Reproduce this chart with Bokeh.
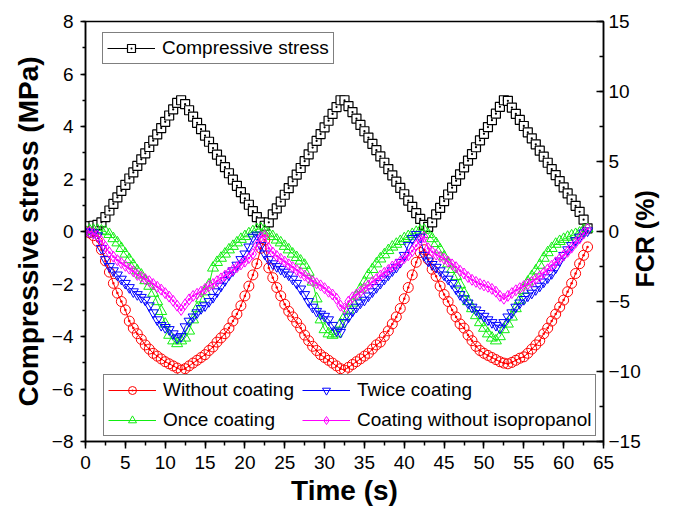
import math
from bokeh.plotting import figure
from bokeh.models import Range1d, LinearAxis, SingleIntervalTicker, FixedTicker, Legend, LegendItem
from bokeh.embed import file_html
from bokeh.resources import INLINE

# ---- data (sampled every 0.5 s from 0 to 63 s) ----
stress = [
    0.20, 0.20, 0.22, 0.25, 0.35, 0.55, 0.80, 1.05, 1.30, 1.55,
    1.78, 2.02, 2.25, 2.50, 2.75, 2.98, 3.22, 3.46, 3.70, 3.94,
    4.18, 4.42, 4.65, 4.90, 5.00, 4.85, 4.62, 4.38, 4.14, 3.90,
    3.65, 3.42, 3.18, 2.93, 2.70, 2.45, 2.22, 1.98, 1.74, 1.50,
    1.26, 1.02, 0.78, 0.55, 0.35, 0.22, 0.35, 0.65, 0.88, 1.14,
    1.40, 1.65, 1.91, 2.17, 2.42, 2.68, 2.94, 3.20, 3.45, 3.71,
    3.97, 4.22, 4.48, 4.74, 5.00, 5.00, 4.78, 4.55, 4.30, 4.06,
    3.82, 3.58, 3.34, 3.10, 2.86, 2.62, 2.38, 2.14, 1.90, 1.66,
    1.42, 1.18, 0.94, 0.70, 0.48, 0.25, 0.18, 0.35, 0.65, 0.90,
    1.16, 1.41, 1.67, 1.93, 2.18, 2.44, 2.70, 2.95, 3.21, 3.47,
    3.72, 3.98, 4.24, 4.49, 4.75, 5.00, 4.98, 4.72, 4.48, 4.25,
    4.02, 3.78, 3.55, 3.32, 3.08, 2.85, 2.62, 2.38, 2.15, 1.92,
    1.68, 1.45, 1.22, 0.98, 0.75, 0.45, 0.12,
]

without_coating = [
    0.0, -0.1, -0.3, -0.7, -1.3, -2.1, -2.9, -3.7, -4.4, -5.0,
    -5.6, -6.4, -6.9, -7.3, -7.7, -8.1, -8.4, -8.7, -8.9, -9.1,
    -9.3, -9.45, -9.6, -9.75, -9.9, -9.8, -9.6, -9.4, -9.2, -9.0,
    -8.8, -8.5, -8.25, -7.9, -7.6, -7.3, -6.9, -6.4, -5.9, -5.3,
    -4.6, -3.9, -3.1, -2.3, -1.2, -0.6, -2.6, -3.3, -4.0, -4.6,
    -5.2, -5.7, -6.1, -6.5, -6.9, -7.4, -7.8, -8.2, -8.5, -8.8,
    -9.0, -9.2, -9.4, -9.6, -9.8, -9.9, -9.7, -9.5, -9.3, -9.1,
    -8.9, -8.7, -8.4, -8.1, -7.9, -7.5, -7.1, -6.6, -6.1, -5.5,
    -4.8, -4.0, -3.1, -2.2, -1.5, -1.3, -2.0, -2.7, -3.2, -3.9,
    -4.5, -5.0, -5.6, -6.1, -6.6, -6.9, -7.4, -7.8, -8.2, -8.5,
    -8.7, -8.85, -9.0, -9.15, -9.3, -9.4, -9.45, -9.35, -9.2, -9.05,
    -8.95, -8.7, -8.4, -8.1, -7.8, -7.3, -6.9, -6.4, -5.9, -5.4,
    -4.9, -4.3, -3.7, -3.0, -2.3, -1.7, -1.1,
]

once_coating = [
    0.0, 0.1, 0.1, 0.1, 0.05, 0.0, -0.2, -0.5, -0.8, -1.2,
    -1.6, -2.0, -2.4, -2.8, -3.1, -3.5, -3.9, -4.4, -5.0, -5.7,
    -6.6, -7.4, -7.8, -8.0, -7.8, -7.6, -7.1, -6.3, -5.5, -4.8,
    -4.3, -3.8, -2.6, -2.2, -1.9, -1.6, -1.3, -1.05, -0.8, -0.55,
    -0.35, -0.15, 0.0, 0.15, 0.2, 0.05, -0.15, -0.35, -0.6, -0.8,
    -1.05, -1.3, -1.6, -1.85, -2.1, -2.4, -2.9, -3.6, -4.8, -6.3,
    -7.0, -7.3, -7.4, -7.3, -6.6, -6.1, -5.6, -5.1, -4.6, -4.1,
    -3.6, -3.1, -2.7, -2.3, -1.95, -1.65, -1.35, -1.1, -0.9, -0.7,
    -0.5, -0.35, -0.2, -0.05, 0.05, 0.1, -0.2, -0.5, -0.85, -1.3,
    -1.8, -2.3, -2.7, -3.2, -3.8, -4.4, -5.0, -5.5, -6.0, -6.5,
    -6.9, -7.3, -7.6, -7.8, -7.5, -7.0, -6.6, -6.1, -5.5, -4.9,
    -4.2, -3.6, -3.2, -2.8, -2.4, -1.9, -1.5, -1.2, -0.9, -0.7,
    -0.55, -0.4, -0.3, -0.2, -0.1, 0.1, 0.2,
]

twice_coating = [
    0.0, -0.05, -0.1, -0.3, -1.2, -2.0, -2.5, -2.8, -3.1, -3.4,
    -3.7, -4.0, -4.3, -4.5, -4.7, -4.9, -5.3, -5.8, -6.3, -6.7,
    -6.85, -7.0, -7.3, -7.6, -7.5, -6.8, -6.4, -6.1, -5.8, -5.5,
    -5.3, -5.0, -4.7, -4.3, -3.9, -3.5, -3.1, -2.8, -2.4, -2.0,
    -1.6, -1.1, -0.4, -0.25, -1.0, -1.6, -2.0, -2.3, -2.5, -2.7,
    -2.9, -3.1, -3.4, -3.7, -4.1, -4.5, -5.0, -5.4, -5.7, -5.9,
    -6.05, -6.3, -6.7, -7.1, -7.2, -6.5, -6.1, -5.7, -5.4, -5.1,
    -4.9, -4.6, -4.3, -4.0, -3.7, -3.4, -3.1, -2.8, -2.55, -2.2,
    -1.7, -1.0, -0.5, -0.2, -0.4, -1.7, -2.1, -2.35, -2.55, -2.8,
    -3.1, -3.4, -3.7, -4.1, -4.5, -4.8, -5.1, -5.4, -5.6, -5.85,
    -6.05, -6.3, -6.5, -6.7, -6.9, -6.5, -6.1, -5.8, -5.4, -5.1,
    -4.85, -4.6, -4.4, -4.15, -3.9, -3.6, -3.3, -3.0, -2.6, -2.1,
    -1.7, -1.3, -1.0, -0.65, -0.4, -0.1, 0.05,
]

without_isopropanol = [
    0.0, -0.05, -0.15, -0.3, -0.7, -1.1, -1.5, -1.8, -2.05, -2.25,
    -2.45, -2.65, -2.85, -3.1, -3.25, -3.4, -3.55, -3.75, -3.95, -4.15,
    -4.4, -4.65, -4.95, -5.3, -5.6, -5.2, -4.85, -4.6, -4.45, -4.3,
    -4.1, -3.9, -3.75, -3.55, -3.35, -3.15, -2.95, -2.75, -2.55, -2.35,
    -2.15, -1.9, -1.6, -1.0, -0.4, -0.3, -1.2, -1.5, -1.75, -1.95,
    -2.15, -2.35, -2.55, -2.75, -2.95, -3.15, -3.35, -3.55, -3.7, -3.85,
    -4.05, -4.3, -4.5, -4.8, -5.3, -5.5, -5.0, -4.7, -4.5, -4.3,
    -4.05, -3.85, -3.6, -3.4, -3.15, -2.95, -2.75, -2.5, -2.35, -2.15,
    -1.9, -1.7, -1.4, -1.0, -0.6, -0.4, -1.2, -1.45, -1.65, -1.8,
    -1.95, -2.15, -2.35, -2.55, -2.8, -3.0, -3.25, -3.45, -3.6, -3.75,
    -3.85, -3.95, -4.1, -4.3, -4.6, -4.8, -4.6, -4.4, -4.2, -4.05,
    -3.9, -3.75, -3.6, -3.4, -3.2, -2.95, -2.7, -2.45, -2.2, -1.95,
    -1.7, -1.45, -1.15, -0.8, -0.5, -0.15, 0.2,
]

time_s = [0.5 * i for i in range(len(stress))]

FONT = "Liberation Sans"

p = figure(width=675, height=513, x_range=Range1d(0, 65), y_range=Range1d(-8, 8),
           output_backend="svg", toolbar_location=None,
           min_border_left=85, min_border_right=71, min_border_top=21, min_border_bottom=72)
p.extra_y_ranges = {"fcr": Range1d(-15, 15)}
p.xgrid.visible = False
p.ygrid.visible = False
p.outline_line_color = "black"
p.outline_line_width = 1.5
p.background_fill_color = "white"
p.border_fill_color = "white"


def style(ax, tin, tout, mtin, mtout, standoff, lstandoff, tsize="28px"):
    ax.axis_line_color = "black"
    ax.axis_line_width = 1.5
    ax.major_tick_line_color = "black"
    ax.major_tick_line_width = 1.5
    ax.minor_tick_line_color = "black"
    ax.minor_tick_line_width = 1.5
    ax.major_tick_in = tin
    ax.major_tick_out = tout
    ax.minor_tick_in = mtin
    ax.minor_tick_out = mtout
    ax.major_label_text_font = FONT
    ax.major_label_text_font_size = "19px"
    ax.major_label_text_color = "black"
    ax.axis_label_text_font = FONT
    ax.axis_label_text_font_size = tsize
    ax.axis_label_text_font_style = "bold"
    ax.axis_label_text_color = "black"
    ax.major_label_standoff = standoff
    ax.axis_label_standoff = lstandoff


xax = p.xaxis[0]
xax.ticker = SingleIntervalTicker(interval=5, num_minor_ticks=2)
xax.axis_label = "Time (s)"
style(xax, 0, 7, 0, 4, 7, 3)

yax = p.yaxis[0]
yax.ticker = SingleIntervalTicker(interval=2, num_minor_ticks=2)
yax.axis_label = "Compressive stress (MPa)"
style(yax, 0, 5, 0, 3, 7, 5)

# right axis with ticks and tick labels
rax = LinearAxis(y_range_name="fcr",
                 ticker=SingleIntervalTicker(interval=5, num_minor_ticks=2))
style(rax, 7, 0, 4, 0, 5, 0)
p.add_layout(rax, "right")

# right-axis title, reading from bottom to top (text starts at FCR = -4)
title_at = [-4]
rtitle = LinearAxis(y_range_name="fcr", ticker=FixedTicker(ticks=title_at),
                    major_label_overrides={title_at[0]: "FCR (%)"})
style(rtitle, 0, 0, 0, 0, 1, 0)
rtitle.axis_line_alpha = 0
rtitle.major_tick_line_alpha = 0
rtitle.major_label_text_font_size = "25px"
rtitle.major_label_text_font_style = "bold"
rtitle.major_label_orientation = math.pi / 2
p.add_layout(rtitle, "right")

# ---- series ----
s_line = p.line(time_s, stress, line_color="black", line_width=1)
s_pts = p.scatter(time_s, stress, marker="square_dot", size=9, line_color="black",
                  line_width=1.2, fill_color="white")

r_line = p.line(time_s, without_coating, line_color="#ff0000", line_width=1, y_range_name="fcr")
r_pts = p.scatter(time_s, without_coating, marker="circle_dot", size=10, line_color="#ff0000",
                  line_width=1, fill_alpha=0, y_range_name="fcr")

g_line = p.line(time_s, once_coating, line_color="#11ee11", line_width=1, y_range_name="fcr")
g_pts = p.scatter(time_s, once_coating, marker="triangle", size=11, line_color="#11ee11",
                  line_width=1, fill_alpha=0, y_range_name="fcr")

b_line = p.line(time_s, twice_coating, line_color="#0000ff", line_width=1, y_range_name="fcr")
b_pts = p.scatter(time_s, twice_coating, marker="inverted_triangle", size=10, line_color="#0000ff",
                  line_width=1, fill_alpha=0, y_range_name="fcr")

m_line = p.line(time_s, without_isopropanol, line_color="#ff00ff", line_width=1, y_range_name="fcr")
m_pts = p.scatter(time_s, without_isopropanol, marker="diamond_dot", size=11, line_color="#ff00ff",
                  line_width=1, fill_alpha=0, y_range_name="fcr")


def style_legend(lg):
    lg.label_text_font = FONT
    lg.label_text_font_size = "19px"
    lg.label_text_color = "black"
    lg.border_line_color = "black"
    lg.border_line_width = 1
    lg.background_fill_color = "white"
    lg.background_fill_alpha = 1
    lg.padding = 4
    lg.spacing = 8
    lg.margin = 0
    lg.glyph_width = 48
    lg.glyph_height = 20
    lg.label_standoff = 7


leg1 = Legend(items=[LegendItem(label="Compressive stress", renderers=[s_line, s_pts])],
              location=(17, 377))
style_legend(leg1)
p.add_layout(leg1)

leg2 = Legend(items=[
    LegendItem(label="Without coating", renderers=[r_line, r_pts]),
    LegendItem(label="Once coating", renderers=[g_line, g_pts]),
    LegendItem(label="Twice coating", renderers=[b_line, b_pts]),
    LegendItem(label="Coating without isopropanol", renderers=[m_line, m_pts]),
], location=(18, 5), ncols=2)
style_legend(leg2)
p.add_layout(leg2)

open("out.html", "w").write(file_html(p, INLINE))
